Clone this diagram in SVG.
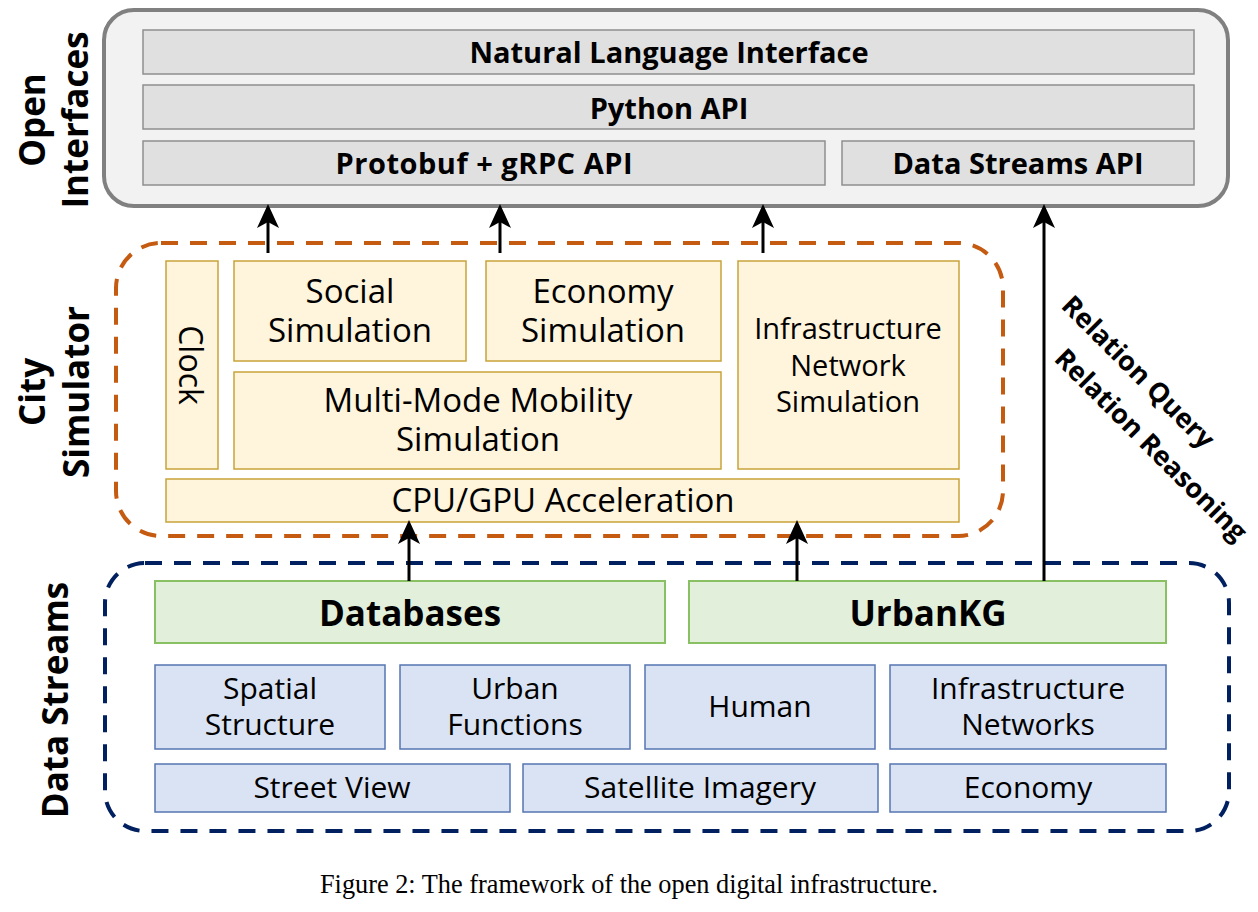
<svg xmlns="http://www.w3.org/2000/svg" width="1258" height="912" viewBox="0 0 1258 912">
<defs>
<style>
text{font-family:"Open Sans","Noto Sans","DejaVu Sans",sans-serif;fill:#000;text-anchor:middle}
.b{font-weight:700}
.bar{fill:#e0e0e0;stroke:#8f8f8f;stroke-width:1.5}
.sim{fill:#fff4dc;stroke:#c9a33a;stroke-width:1.5}
.db{fill:#e2efda;stroke:#88c063;stroke-width:2}
.ds{fill:#dae3f3;stroke:#5676b3;stroke-width:1.5}
.f29{font-size:29px}
.f30{font-size:30px}
.f33{font-size:33px}
.f35{font-size:35px}
.lab{font-size:35px;font-weight:700}
.rel{font-size:27px;font-weight:700;text-anchor:start}
.arr{stroke:#000;stroke-width:3;fill:none;marker-end:url(#ah)}
.cap{font-family:"Liberation Serif","Times New Roman",serif;font-size:26.3px}
</style>
<marker id="ah" markerUnits="userSpaceOnUse" viewBox="0 0 24 22" markerWidth="24" markerHeight="22" refX="14" refY="11" orient="auto">
<path d="M0,0 L24,11 L0,22 L6,11 Z" fill="#000"/>
</marker>
</defs>
<rect width="1258" height="912" fill="#fff"/>

<!-- Side labels -->
<g id="label-open-interfaces">
<text class="lab" transform="translate(45,120) rotate(-90)">Open</text>
<text class="lab" transform="translate(88,120) rotate(-90)">Interfaces</text>
</g>
<g id="label-city-simulator">
<text class="lab" transform="translate(45,392) rotate(-90)">City</text>
<text class="lab" transform="translate(89,392) rotate(-90)">Simulator</text>
</g>
<g id="label-data-streams">
<text class="lab" transform="translate(68,700) rotate(-90)">Data Streams</text>
</g>

<!-- Open Interfaces -->
<g id="open-interfaces">
<rect x="104" y="10" width="1124" height="196" rx="30" fill="#f2f2f2" stroke="#808080" stroke-width="4"/>
</g>
<g id="nl-interface">
<rect class="bar" x="143" y="30" width="1051" height="44"/>
<text class="b f29" x="669" y="63">Natural Language Interface</text>
</g>
<g id="python-api">
<rect class="bar" x="143" y="85" width="1051" height="44"/>
<text class="b f29" x="669" y="119">Python API</text>
</g>
<g id="protobuf-api">
<rect class="bar" x="143" y="141" width="682" height="44"/>
<text class="b f29" x="484" y="174" textLength="297">Protobuf + gRPC API</text>
</g>
<g id="data-streams-api">
<rect class="bar" x="842" y="141" width="352" height="44"/>
<text class="b f29" x="1018" y="174">Data Streams API</text>
</g>

<!-- City Simulator -->
<g id="city-simulator">
<rect x="116" y="243" width="887" height="293" rx="45" fill="none" stroke="#c55a11" stroke-width="4" stroke-dasharray="17 12"/>
</g>
<g id="clock">
<rect class="sim" x="166" y="261" width="52" height="208"/>
<text transform="translate(179,365) rotate(90)" style="font-size:32px">Clock</text>
</g>
<g id="social-simulation">
<rect class="sim" x="234" y="261" width="232" height="100"/>
<text class="f33" x="350" y="303">Social</text>
<text class="f33" x="350" y="342">Simulation</text>
</g>
<g id="economy-simulation">
<rect class="sim" x="486" y="261" width="235" height="100"/>
<text class="f33" x="603" y="303">Economy</text>
<text class="f33" x="603" y="342">Simulation</text>
</g>
<g id="infrastructure-simulation">
<rect class="sim" x="738" y="261" width="221" height="208"/>
<text class="f29" x="848" y="339">Infrastructure</text>
<text class="f29" x="848" y="376">Network</text>
<text class="f29" x="848" y="412">Simulation</text>
</g>
<g id="mobility-simulation">
<rect class="sim" x="234" y="372" width="487" height="97"/>
<text class="f33" x="478" y="412">Multi-Mode Mobility</text>
<text class="f33" x="478" y="451">Simulation</text>
</g>
<g id="acceleration">
<rect class="sim" x="166" y="479" width="793" height="43"/>
<text class="f33" x="563" y="512">CPU/GPU Acceleration</text>
</g>

<!-- Data Streams -->
<g id="data-streams">
<rect x="105" y="563" width="1124" height="268" rx="40" fill="none" stroke="#002060" stroke-width="4" stroke-dasharray="17 12"/>
</g>
<g id="databases">
<rect class="db" x="155" y="581" width="510" height="62"/>
<text class="b f35" x="410" y="626">Databases</text>
</g>
<g id="urbankg">
<rect class="db" x="689" y="581" width="477" height="62"/>
<text class="b f35" x="928" y="626">UrbanKG</text>
</g>
<g id="spatial-structure">
<rect class="ds" x="155" y="665" width="230" height="84"/>
<text class="f30" x="270" y="699">Spatial</text>
<text class="f30" x="270" y="735">Structure</text>
</g>
<g id="urban-functions">
<rect class="ds" x="400" y="665" width="230" height="84"/>
<text class="f30" x="515" y="699">Urban</text>
<text class="f30" x="515" y="735">Functions</text>
</g>
<g id="human">
<rect class="ds" x="645" y="665" width="230" height="84"/>
<text class="f30" x="760" y="717">Human</text>
</g>
<g id="infrastructure-networks">
<rect class="ds" x="890" y="665" width="276" height="84"/>
<text class="f30" x="1028" y="699">Infrastructure</text>
<text class="f30" x="1028" y="735">Networks</text>
</g>
<g id="street-view">
<rect class="ds" x="155" y="764" width="355" height="48"/>
<text class="f30" x="332" y="798">Street View</text>
</g>
<g id="satellite-imagery">
<rect class="ds" x="523" y="764" width="355" height="48"/>
<text class="f30" x="700" y="798">Satellite Imagery</text>
</g>
<g id="economy">
<rect class="ds" x="890" y="764" width="276" height="48"/>
<text class="f30" x="1028" y="798">Economy</text>
</g>

<!-- Connectors -->
<g id="connectors">
<line class="arr" x1="268" y1="253" x2="268" y2="214"/>
<line class="arr" x1="500" y1="253" x2="500" y2="214"/>
<line class="arr" x1="763" y1="253" x2="763" y2="214"/>
<line class="arr" x1="409" y1="581" x2="409" y2="530"/>
<line class="arr" x1="797" y1="581" x2="797" y2="530"/>
<line class="arr" x1="1044" y1="581" x2="1044" y2="214"/>
<text class="rel" transform="translate(1060,307) rotate(45)">Relation Query</text>
<text class="rel" transform="translate(1053,360) rotate(45)">Relation Reasoning</text>
</g>

<text class="cap" x="629" y="893">Figure 2: The framework of the open digital infrastructure.</text>
</svg>
